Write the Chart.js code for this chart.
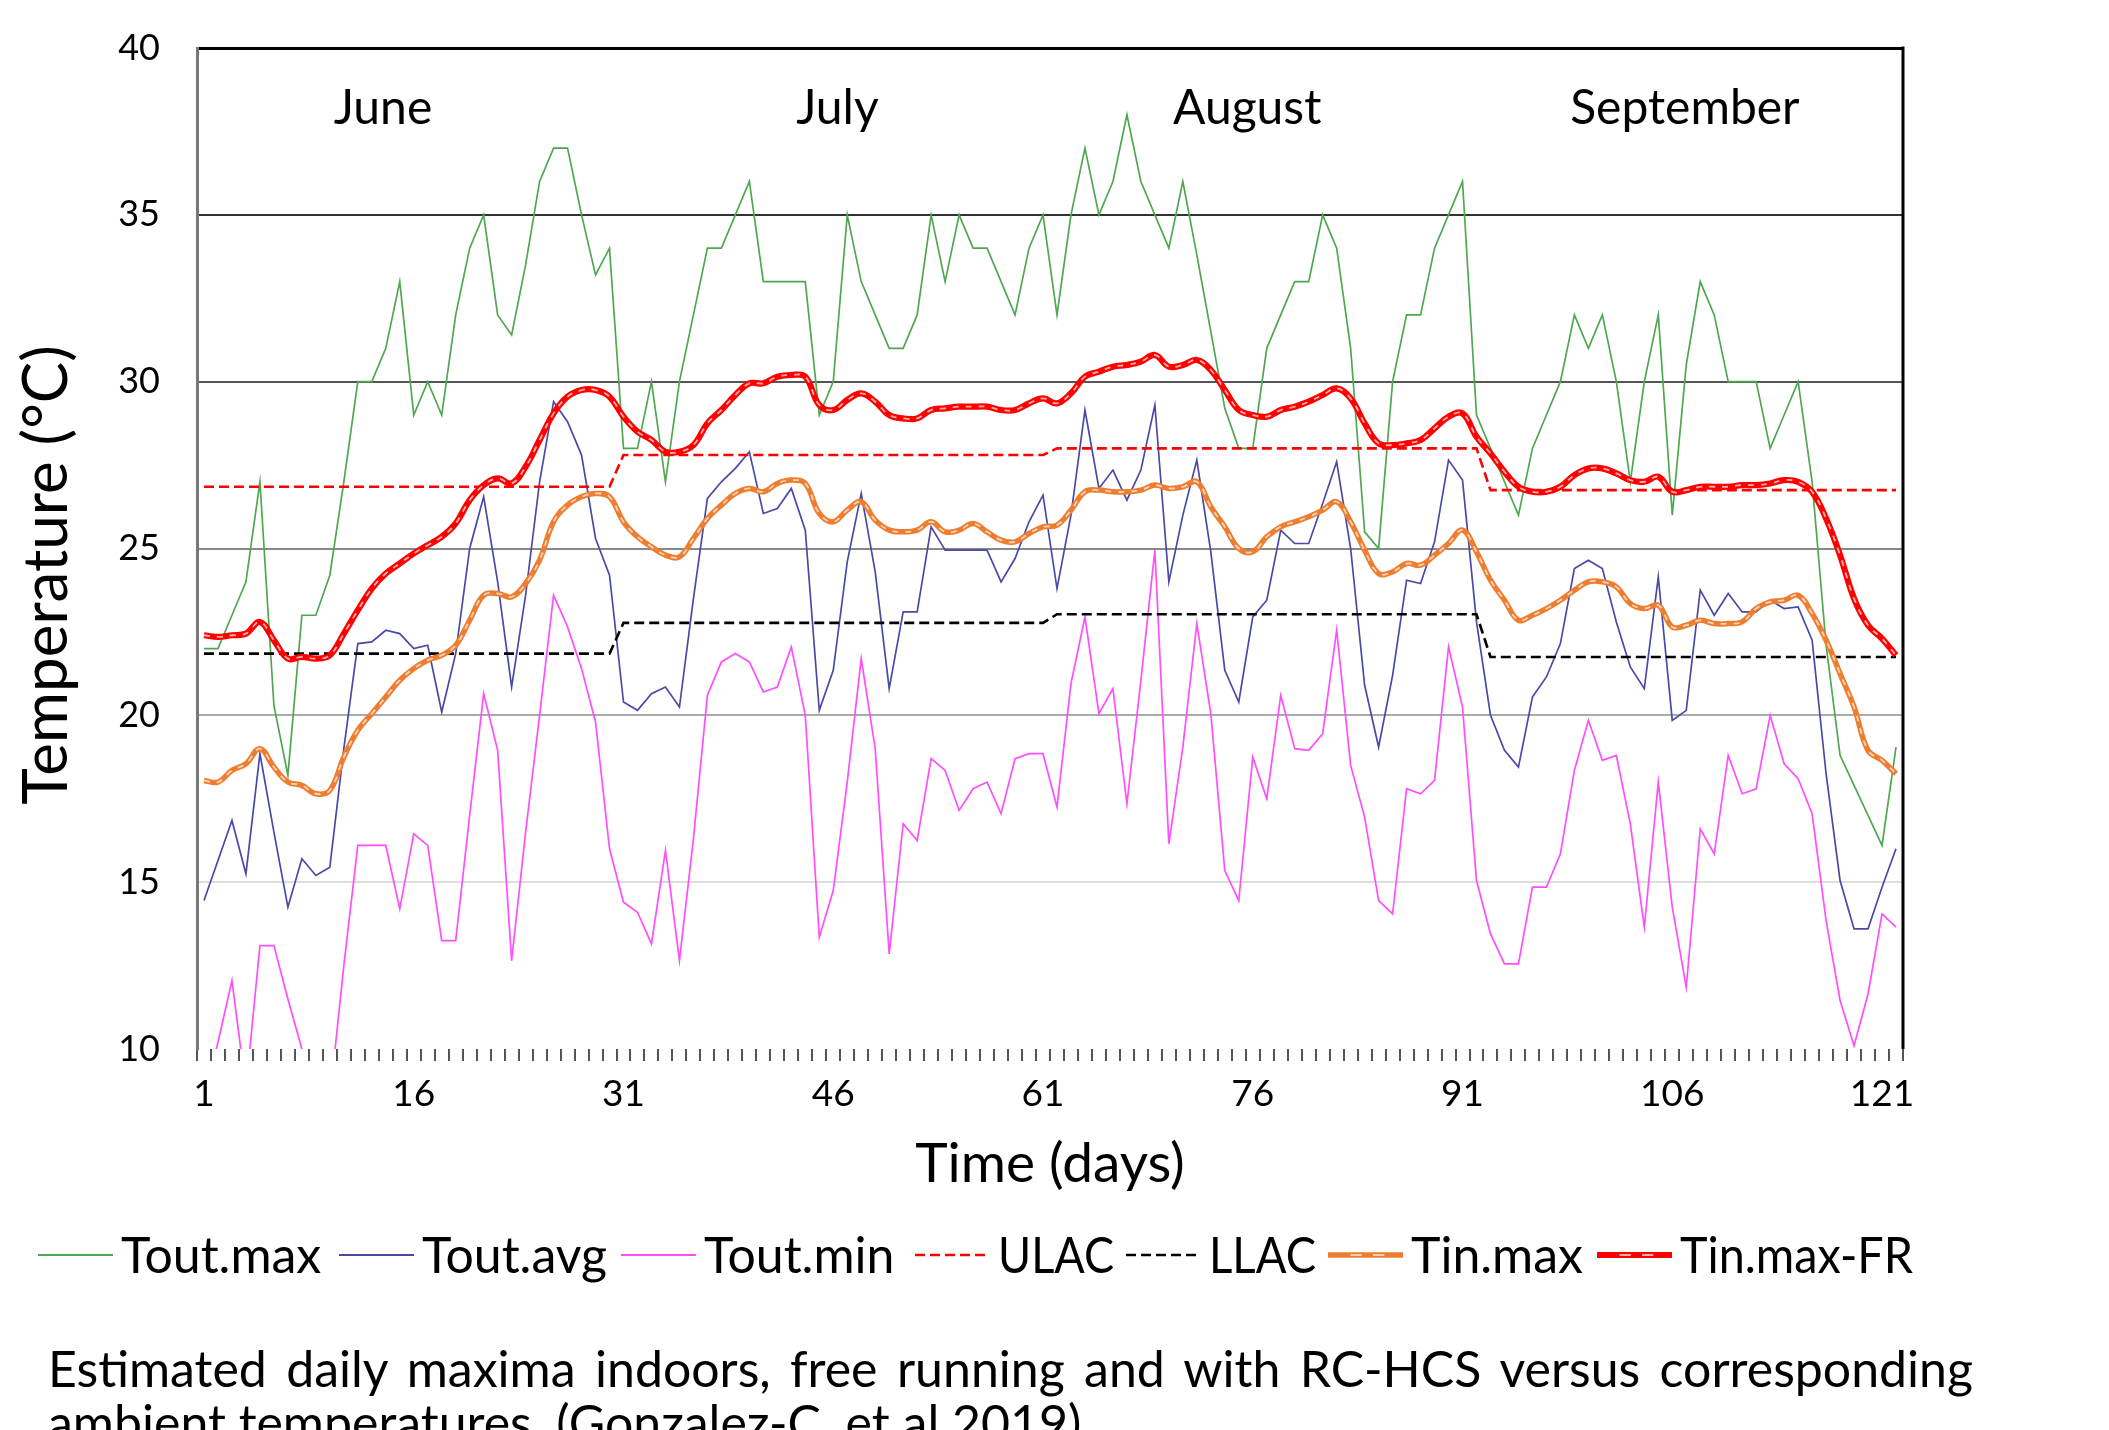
<!DOCTYPE html>
<html>
<head>
<meta charset="utf-8">
<script src="https://cdn.jsdelivr.net/npm/chart.js"></script>
<style>
  html, body { margin: 0; padding: 0; background: #fff; overflow: hidden; }
  body { width: 2109px; height: 1430px; position: relative; font-family: Lato, "Open Sans", sans-serif; }
  #chart { position: absolute; left: 0; top: 0; display: block; }
  #caption { position: absolute; left: 48px; top: 1341px; width: 1925px; font-size: 50px; line-height: 54px; color: #000; }
  #caption .l1 { text-align: justify; text-align-last: justify; }
</style>
</head>
<body>
<canvas id="chart" width="2109" height="1300"></canvas>
<div id="caption">
  <div class="l1">Estimated daily maxima indoors, free running and with RC-HCS versus corresponding</div>
  <div>ambient temperatures. (Gonzalez-C. et al 2019)</div>
</div>
<script>
// days 1..122 (1 June - 30 September)
const dayLabels = Array.from({ length: 122 }, (_, i) => String(i + 1));

const monthNames = ['June', 'July', 'August', 'September'];
const monthLengths = [30, 31, 31, 30];

// comfort band limits, one value per month
const ulacMonthly = [26.85, 27.8, 28.0, 26.75];
const llacMonthly = [21.85, 22.77, 23.03, 21.75];

const toutMax = [22, 22, 23, 24, 27, 20.3, 18.2, 23, 23, 24.2,
  27, 30, 30, 31, 33, 29, 30, 29, 32, 34,
  35, 32, 31.4, 33.5, 36, 37, 37, 35, 33.2, 34,
  28, 28, 30, 27, 30, 32, 34, 34, 35, 36,
  33, 33, 33, 33, 29, 30, 35, 33, 32, 31,
  31, 32, 35, 33, 35, 34, 34, 33, 32, 34,
  35, 32, 35, 37, 35, 36, 38, 36, 35, 34,
  36, 33.8, 31.5, 29.2, 28, 28, 31, 32, 33, 33,
  35, 34, 31, 25.5, 25, 30, 32, 32, 34, 35,
  36, 29, 28, 27, 26, 28, 29, 30, 32, 31,
  32, 30, 27, 30, 32, 26, 30.5, 33, 32, 30,
  30, 30, 28, 29, 30, 27, 22.1, 18.8, 17.9, 17,
  16.1, 19.05];

const toutAvg = [14.45, 15.65, 16.85, 15.25, 18.85, 16.5, 14.25, 15.7, 15.2, 15.45,
  19.0, 22.15, 22.2, 22.55, 22.45, 22.0, 22.1, 20.1, 21.85, 25.0,
  26.55, 24.0, 20.85, 23.6, 27.0, 29.4, 28.8, 27.8, 25.3, 24.2,
  20.4, 20.15, 20.65, 20.85, 20.25, 23.5, 26.5, 27.0, 27.4, 27.9,
  26.05, 26.2, 26.8, 25.55, 20.15, 21.35, 24.6, 26.65, 24.3, 20.8,
  23.1, 23.1, 25.65, 24.95, 24.95, 24.95, 24.95, 24.0, 24.7, 25.8,
  26.6, 23.8, 26.0, 29.15, 26.8, 27.35, 26.45, 27.35, 29.3, 24.0,
  26.0, 27.65, 24.9, 21.35, 20.4, 22.95, 23.45, 25.55, 25.15, 25.15,
  26.35, 27.6, 25.0, 20.9, 19.05, 21.2, 24.05, 23.95, 25.2, 27.65,
  27.05, 22.8, 20.0, 18.95, 18.45, 20.55, 21.15, 22.15, 24.4, 24.65,
  24.4, 22.8, 21.45, 20.8, 24.15, 19.85, 20.15, 23.75, 23.0, 23.65,
  23.1, 23.1, 23.45, 23.2, 23.25, 22.25, 18.25, 15.05, 13.6, 13.6,
  14.85, 16.0];

const toutMin = [8.5, 10.2, 12.05, 8.8, 13.1, 13.1, 11.5, 10.0, 8.5, 8.5,
  12.5, 16.1, 16.1, 16.1, 14.2, 16.45, 16.1, 13.25, 13.25, 17.0,
  20.65, 18.95, 12.65, 16.5, 20.0, 23.6, 22.65, 21.4, 19.8, 16.0,
  14.4, 14.1, 13.15, 15.95, 12.65, 16.3, 20.6, 21.6, 21.85, 21.6,
  20.7, 20.85, 22.05, 20.0, 13.35, 14.75, 18.0, 21.7, 19.0, 12.85,
  16.75, 16.25, 18.7, 18.35, 17.15, 17.8, 18.0, 17.05, 18.7, 18.85,
  18.85, 17.25, 20.95, 22.95, 20.05, 20.8, 17.35, 21.05, 24.95, 16.15,
  19.05, 22.75, 20.05, 15.35, 14.45, 18.75, 17.5, 20.6, 19.0, 18.95,
  19.45, 22.55, 18.5, 16.95, 14.45, 14.05, 17.8, 17.65, 18.05, 22.05,
  20.25, 15.05, 13.45, 12.55, 12.55, 14.85, 14.85, 15.85, 18.35, 19.85,
  18.65, 18.8, 16.75, 13.65, 18.0, 14.25, 11.85, 16.6, 15.85, 18.8,
  17.65, 17.8, 20.0, 18.55, 18.1, 17.05, 13.85, 11.45, 10.1, 11.65,
  14.05, 13.65];

const tinMax = [18.05, 18.0, 18.35, 18.55, 19.0, 18.45, 18.0, 17.9, 17.65, 17.75,
  18.75, 19.55, 20.05, 20.55, 21.05, 21.4, 21.65, 21.8, 22.1, 22.85,
  23.6, 23.65, 23.55, 23.95, 24.65, 25.8, 26.3, 26.55, 26.65, 26.55,
  25.8, 25.35, 25.05, 24.8, 24.75, 25.3, 25.9, 26.3, 26.65, 26.8,
  26.7, 26.95, 27.05, 26.95, 26.05, 25.8, 26.15, 26.4, 25.85, 25.55,
  25.5, 25.55, 25.8, 25.5, 25.55, 25.75, 25.5, 25.25, 25.2, 25.45,
  25.65, 25.7, 26.15, 26.7, 26.75, 26.7, 26.7, 26.75, 26.9, 26.8,
  26.85, 27.0, 26.25, 25.65, 25.0, 24.9, 25.35, 25.65, 25.8, 25.95,
  26.15, 26.4, 25.8, 24.95, 24.25, 24.3, 24.55, 24.5, 24.8, 25.15,
  25.55, 24.9, 24.05, 23.45, 22.85, 23.0, 23.2, 23.45, 23.75, 24.0,
  24.0, 23.85, 23.35, 23.2, 23.3, 22.65, 22.7, 22.85, 22.75, 22.75,
  22.8, 23.2, 23.4, 23.45, 23.6, 23.05, 22.25, 21.25, 20.25, 18.95,
  18.65, 18.25];

const tinMaxFR = [22.4, 22.35, 22.4, 22.45, 22.8, 22.25, 21.7, 21.75, 21.7, 21.8,
  22.45, 23.15, 23.8, 24.25, 24.55, 24.85, 25.1, 25.35, 25.75, 26.45,
  26.9, 27.1, 26.95, 27.45, 28.25, 29.05, 29.55, 29.75, 29.75, 29.55,
  28.95, 28.5, 28.25, 27.9, 27.9, 28.1, 28.75, 29.15, 29.6, 29.95,
  29.95, 30.15, 30.2, 30.15, 29.3, 29.15, 29.45, 29.65, 29.4, 29.0,
  28.9, 28.9, 29.15, 29.2, 29.25, 29.25, 29.25, 29.15, 29.15, 29.35,
  29.5, 29.35, 29.65, 30.15, 30.3, 30.45, 30.5, 30.6, 30.8, 30.45,
  30.5, 30.65, 30.35, 29.75, 29.15, 29.0, 28.95, 29.15, 29.25, 29.4,
  29.6, 29.8, 29.5, 28.75, 28.15, 28.1, 28.15, 28.25, 28.6, 28.95,
  29.05, 28.35, 27.85, 27.3, 26.85, 26.7, 26.7, 26.85, 27.2, 27.4,
  27.4, 27.25, 27.05, 27.0, 27.15, 26.7, 26.75, 26.85, 26.85, 26.85,
  26.9, 26.9, 26.95, 27.05, 27.0, 26.7, 25.9, 24.8, 23.5, 22.7,
  22.3, 21.8];

// repeat each month's limit over its days
function perDay(monthly) {
  const out = [];
  monthly.forEach((v, m) => {
    for (let i = 0; i < monthLengths[m]; i++) out.push(v);
  });
  return out;
}

const FONT = 'Lato, "Open Sans", sans-serif';

function thin(label, data, color, order) {
  return { label, data, borderColor: color, backgroundColor: color, borderWidth: 1.7,
    tension: 0, pointRadius: 0, order };
}
function dashed(label, data, color, order) {
  return { label, data, borderColor: color, backgroundColor: color, borderWidth: 2.6,
    borderDash: [10, 5], tension: 0, pointRadius: 0, order };
}
// thick smoothed line plus a light dashed stripe on top of it
function band(label, data, color, shine, width, order) {
  return [
    { label, data, borderColor: color, backgroundColor: color, borderWidth: width,
      tension: 0.4, pointRadius: 0, order },
    { label: label + '_shine', overlayFor: label, data, borderColor: shine, borderWidth: 1.8,
      borderDash: [6, 7], tension: 0.4, pointRadius: 0, order: order - 0.5 }
  ];
}

const datasets = [
  thin('Tout.max', toutMax, '#4FA84F', 10),
  thin('Tout.avg', toutAvg, '#4A4AA6', 9),
  thin('Tout.min', toutMin, '#FF4DFF', 8),
  dashed('ULAC', perDay(ulacMonthly), '#FF0000', 7),
  dashed('LLAC', perDay(llacMonthly), '#000000', 6),
  ...band('Tin.max', tinMax, '#ED7D31', 'rgba(255,228,205,0.85)', 5.5, 5),
  ...band('Tin.max-FR', tinMaxFR, '#FF0000', 'rgba(255,205,205,0.85)', 6.2, 3)
];

// grid line shades as they appear in the original figure
const gridShade = { 40: '#000', 35: '#333', 30: '#555', 25: '#888', 20: '#aaa', 15: '#ddd', 10: 'rgba(0,0,0,0)' };
const monthLabelAt = [12.8, 45.3, 74.6, 105.9];
const legendStartX = [38, 339, 621, 915, 1126, 1328, 1597];

function drawSample(ctx, ds, x, y, w) {
  ctx.save();
  ctx.lineCap = 'butt';
  ctx.strokeStyle = ds.borderColor;
  ctx.lineWidth = Math.max(ds.borderWidth, 2.2);
  ctx.setLineDash(ds.borderDash || []);
  ctx.beginPath(); ctx.moveTo(x, y); ctx.lineTo(x + w, y); ctx.stroke();
  const shine = datasets.find(d => d.overlayFor === ds.label);
  if (shine) {
    ctx.strokeStyle = shine.borderColor;
    ctx.lineWidth = shine.borderWidth;
    ctx.setLineDash([]);
    ctx.beginPath(); ctx.moveTo(x + w * 0.3, y); ctx.lineTo(x + w * 0.45, y);
    ctx.moveTo(x + w * 0.6, y); ctx.lineTo(x + w * 0.75, y); ctx.stroke();
  }
  ctx.restore();
}

const decor = {
  id: 'decor',
  afterDraw(chart) {
    const { ctx, chartArea: a, scales: { x, y } } = chart;
    ctx.save();
    // right frame line
    ctx.strokeStyle = '#000';
    ctx.lineWidth = 3;
    ctx.beginPath(); ctx.moveTo(a.right, a.top - 1.5); ctx.lineTo(a.right, a.bottom); ctx.stroke();

    ctx.fillStyle = '#000';
    // month names
    ctx.font = '48px ' + FONT;
    ctx.textAlign = 'center';
    ctx.textBaseline = 'alphabetic';
    monthNames.forEach((m, i) => {
      ctx.fillText(m, x.getPixelForValue(monthLabelAt[i]), y.getPixelForValue(37.72));
    });

    // axis titles
    ctx.font = '55px ' + FONT;
    ctx.fillText('Time (days)', (a.left + a.right) / 2, 1182);
    ctx.save();
    ctx.translate(67, 575);
    ctx.rotate(-Math.PI / 2);
    ctx.font = '62px ' + FONT;
    ctx.fillText('Temperature (°C)', 0, 0);
    ctx.restore();

    // legend
    ctx.font = '50px ' + FONT;
    ctx.textAlign = 'left';
    const ly = 1255;
    chart.data.datasets.filter(d => !d.overlayFor).forEach((ds, i) => {
      const lx = legendStartX[i];
      const next = i + 1 < legendStartX.length ? legendStartX[i + 1] : 1925;
      drawSample(ctx, ds, lx, ly, 75);
      ctx.fillText(ds.label, lx + 83, ly + 18, next - (lx + 83) - 12);
    });
    ctx.restore();
  }
};

new Chart(document.getElementById('chart'), {
  type: 'line',
  data: { labels: dayLabels, datasets },
  options: {
    responsive: false,
    devicePixelRatio: 1,
    animation: false,
    events: [],
    layout: { padding: { top: 48, right: 206, bottom: 171, left: 0 } },
    plugins: { legend: { display: false }, tooltip: { enabled: false } },
    scales: {
      x: {
        offset: true,
        grid: { offset: true, drawOnChartArea: false, drawTicks: true, tickLength: 12, color: '#555', lineWidth: 2 },
        border: { display: false },
        ticks: {
          autoSkip: false, maxRotation: 0, minRotation: 0, padding: 11, color: '#000',
          font: { family: FONT, size: 37 },
          callback: function (v, i) { return i % 15 === 0 ? this.getLabelForValue(v) : ''; }
        },
        afterFit: s => { s.height = 80; }
      },
      y: {
        min: 10, max: 40,
        ticks: { stepSize: 5, padding: 37, color: '#000', font: { family: FONT, size: 36 } },
        grid: {
          drawTicks: false,
          color: c => gridShade[c.tick.value] || '#999',
          lineWidth: c => (c.tick.value === 40 ? 3 : 2)
        },
        border: { display: true, color: '#777', width: 3 },
        afterFit: s => { s.width = 197; s.paddingTop = 0; s.paddingBottom = 0; }
      }
    }
  },
  plugins: [decor]
});
</script>
</body>
</html>
